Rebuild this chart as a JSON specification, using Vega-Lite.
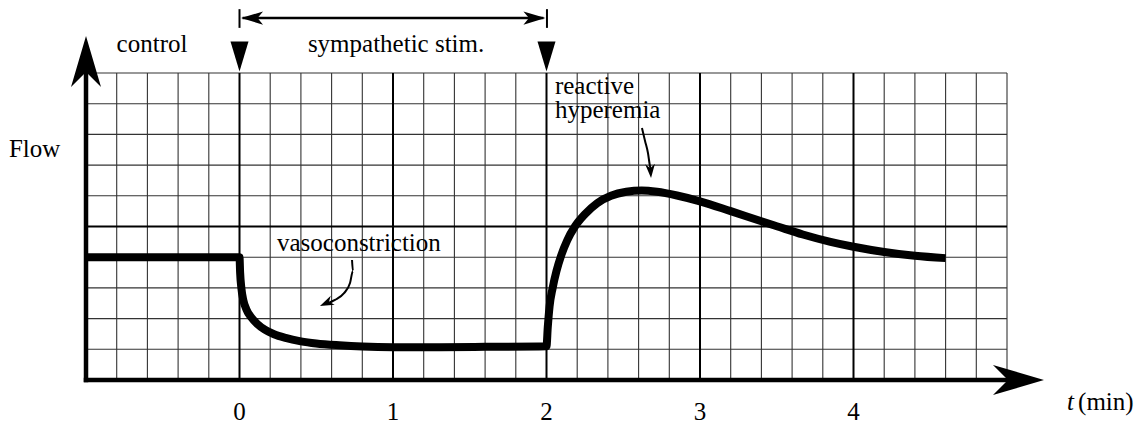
{
  "$schema": "https://vega.github.io/schema/vega-lite/v6.json",
  "width": 1143,
  "height": 424,
  "autosize": {"type": "none"},
  "padding": 0,
  "background": "white",
  "config": {"view": {"stroke": null}},
  "datasets": {
    "vminor": [{"t":-0.8,"f":0,"f2":10},{"t":-0.6,"f":0,"f2":10},{"t":-0.4,"f":0,"f2":10},{"t":-0.2,"f":0,"f2":10},{"t":0.2,"f":0,"f2":10},{"t":0.4,"f":0,"f2":10},{"t":0.6,"f":0,"f2":10},{"t":0.8,"f":0,"f2":10},{"t":1.2,"f":0,"f2":10},{"t":1.4,"f":0,"f2":10},{"t":1.6,"f":0,"f2":10},{"t":1.8,"f":0,"f2":10},{"t":2.2,"f":0,"f2":10},{"t":2.4,"f":0,"f2":10},{"t":2.6,"f":0,"f2":10},{"t":2.8,"f":0,"f2":10},{"t":3.2,"f":0,"f2":10},{"t":3.4,"f":0,"f2":10},{"t":3.6,"f":0,"f2":10},{"t":3.8,"f":0,"f2":10},{"t":4.2,"f":0,"f2":10},{"t":4.4,"f":0,"f2":10},{"t":4.6,"f":0,"f2":10},{"t":4.8,"f":0,"f2":10},{"t":5,"f":0,"f2":10}],
    "vmajor": [{"t":0,"f":0,"f2":10},{"t":1,"f":0,"f2":10},{"t":2,"f":0,"f2":10},{"t":3,"f":0,"f2":10},{"t":4,"f":0,"f2":10}],
    "hminor": [{"f":1,"t":-1,"t2":5},{"f":2,"t":-1,"t2":5},{"f":3,"t":-1,"t2":5},{"f":4,"t":-1,"t2":5},{"f":6,"t":-1,"t2":5},{"f":7,"t":-1,"t2":5},{"f":8,"t":-1,"t2":5},{"f":9,"t":-1,"t2":5},{"f":10,"t":-1,"t2":5}],
    "hmajor": [{"f":5,"t":-1,"t2":5}],
    "axes": [{"t":-1,"f":0,"t2":-1,"f2":10.5},{"t":-1,"f":0,"t2":5.1,"f2":0}],
    "yhead": [{"t":-1,"f":11.205}],
    "xhead": [{"t":5.241,"f":0}],
    "flow": [
      {"t":-1,"f":4.0},{"t":0,"f":4.0},{"t":0.004,"f":3.5},{"t":0.012,"f":3.0},{"t":0.025,"f":2.6},{"t":0.045,"f":2.3},{"t":0.075,"f":2.05},{"t":0.115,"f":1.83},{"t":0.165,"f":1.64},{"t":0.225,"f":1.49},{"t":0.3,"f":1.37},{"t":0.4,"f":1.26},{"t":0.5,"f":1.19},{"t":0.65,"f":1.13},{"t":0.8,"f":1.09},{"t":1.0,"f":1.07},{"t":1.3,"f":1.07},{"t":1.6,"f":1.08},{"t":2.0,"f":1.1},
      {"t":2.008,"f":1.7},{"t":2.02,"f":2.4},{"t":2.04,"f":3.0},{"t":2.065,"f":3.55},{"t":2.095,"f":4.05},{"t":2.135,"f":4.55},{"t":2.185,"f":5.0},{"t":2.25,"f":5.4},{"t":2.33,"f":5.76},{"t":2.42,"f":6.0},{"t":2.52,"f":6.13},{"t":2.62,"f":6.17},{"t":2.72,"f":6.13},{"t":2.85,"f":6.01},{"t":3.0,"f":5.82},{"t":3.2,"f":5.5},{"t":3.4,"f":5.17},{"t":3.5,"f":5.01},{"t":3.67,"f":4.74},{"t":3.85,"f":4.5},{"t":4.0,"f":4.34},{"t":4.2,"f":4.17},{"t":4.4,"f":4.05},{"t":4.6,"f":3.97}
    ],
    "marks": [{"t":0,"f":10.05},{"t":2,"f":10.05}],
    "span": [{"t":0.02,"f":11.79,"t2":1.98,"f2":11.79}],
    "spanbars": [{"t":0,"f":11.47,"f2":12.08},{"t":2.003,"f":11.47,"f2":12.08}],
    "lhead": [{"t":0.01,"f":11.79}],
    "rhead": [{"t":1.993,"f":11.79}],
    "varrow": [{"seq":1,"t":0.733,"f":3.909},{"seq":2,"t":0.739,"f":3.55},{"seq":3,"t":0.72,"f":3.16},{"seq":4,"t":0.681,"f":2.83},{"seq":5,"t":0.622,"f":2.61},{"seq":6,"t":0.564,"f":2.48}],
    "vhead": [{"t":0.524,"f":2.41}],
    "harrow": [{"seq":1,"t":2.622,"f":8.208},{"seq":2,"t":2.642,"f":7.785},{"seq":3,"t":2.661,"f":7.394},{"seq":4,"t":2.674,"f":6.971},{"seq":5,"t":2.681,"f":6.84}],
    "hhead": [{"t":2.681,"f":6.58}],
    "tcenter": [{"t":-0.57,"f":10.68,"label":"control"},{"t":1.02,"f":10.68,"label":"sympathetic stim."},{"t":0,"f":-1.30,"label":"0"},{"t":1,"f":-1.30,"label":"1"},{"t":2,"f":-1.30,"label":"2"},{"t":3,"f":-1.30,"label":"3"},{"t":4,"f":-1.30,"label":"4"}],
    "tleft": [{"t":-1.502,"f":7.264,"label":"Flow"},{"t":0.244,"f":4.2,"label":"vasoconstriction"},{"t":2.055,"f":9.316,"label":"reactive"},{"t":2.055,"f":8.534,"label":"hyperemia"},{"t":5.463,"f":-0.977,"label":"(min)"}],
    "titalic": [{"t":5.391,"f":-0.977,"label":"t"}]
  },
  "encoding": {
    "x": {"field": "t", "type": "quantitative", "scale": {"domain": [-1.5603, 5.886], "nice": false, "zero": false}, "axis": null},
    "y": {"field": "f", "type": "quantitative", "scale": {"domain": [-1.4332, 12.378], "nice": false, "zero": false}, "axis": null}
  },
  "layer": [
    {"data": {"name": "vminor"}, "mark": {"type": "rule", "color": "#333", "strokeWidth": 1.1}, "encoding": {"y2": {"field": "f2"}}},
    {"data": {"name": "hminor"}, "mark": {"type": "rule", "color": "#333", "strokeWidth": 1.1}, "encoding": {"x2": {"field": "t2"}}},
    {"data": {"name": "vmajor"}, "mark": {"type": "rule", "color": "#000", "strokeWidth": 2}, "encoding": {"y2": {"field": "f2"}}},
    {"data": {"name": "hmajor"}, "mark": {"type": "rule", "color": "#000", "strokeWidth": 2}, "encoding": {"x2": {"field": "t2"}}},
    {"data": {"name": "axes"}, "mark": {"type": "rule", "color": "#000", "strokeWidth": 4.5, "strokeCap": "square"}, "encoding": {"x2": {"field": "t2"}, "y2": {"field": "f2"}}},
    {"data": {"name": "yhead"}, "mark": {"type": "point", "shape": "M0,0L1,3.4L0,2.4L-1,3.4Z", "size": 900, "filled": true, "color": "#000", "opacity": 1, "strokeWidth": 0}},
    {"data": {"name": "xhead"}, "mark": {"type": "point", "shape": "M0,0L1,3.4L0,2.4L-1,3.4Z", "size": 900, "angle": 90, "filled": true, "color": "#000", "opacity": 1, "strokeWidth": 0}},
    {"data": {"name": "flow"}, "mark": {"type": "line", "color": "#000", "strokeWidth": 8, "interpolate": "monotone", "strokeJoin": "miter", "strokeCap": "butt"}, "encoding": {}},
    {"data": {"name": "marks"}, "mark": {"type": "point", "shape": "M0,0L-0.6,-2L0.6,-2Z", "size": 900, "filled": true, "color": "#000", "opacity": 1, "strokeWidth": 0}},
    {"data": {"name": "span"}, "mark": {"type": "rule", "color": "#000", "strokeWidth": 2.5}, "encoding": {"x2": {"field": "t2"}, "y2": {"field": "f2"}}},
    {"data": {"name": "spanbars"}, "mark": {"type": "rule", "color": "#000", "strokeWidth": 2}, "encoding": {"y2": {"field": "f2"}}},
    {"data": {"name": "lhead"}, "mark": {"type": "point", "shape": "M0,0L0.6,2L0,1.5L-0.6,2Z", "size": 484, "angle": 270, "filled": true, "color": "#000", "opacity": 1, "strokeWidth": 0}},
    {"data": {"name": "rhead"}, "mark": {"type": "point", "shape": "M0,0L0.6,2L0,1.5L-0.6,2Z", "size": 484, "angle": 90, "filled": true, "color": "#000", "opacity": 1, "strokeWidth": 0}},
    {"data": {"name": "varrow"}, "mark": {"type": "line", "color": "#000", "strokeWidth": 2, "interpolate": "monotone"}, "encoding": {"order": {"field": "seq", "type": "quantitative"}}},
    {"data": {"name": "vhead"}, "mark": {"type": "point", "shape": "M0,0L0.7,2L0,1.4L-0.7,2Z", "size": 196, "angle": 246, "filled": true, "color": "#000", "opacity": 1, "strokeWidth": 0}},
    {"data": {"name": "harrow"}, "mark": {"type": "line", "color": "#000", "strokeWidth": 2, "interpolate": "monotone"}, "encoding": {"order": {"field": "seq", "type": "quantitative"}}},
    {"data": {"name": "hhead"}, "mark": {"type": "point", "shape": "M0,0L0.7,2L0,1.4L-0.7,2Z", "size": 196, "angle": 176, "filled": true, "color": "#000", "opacity": 1, "strokeWidth": 0}},
    {"data": {"name": "tcenter"}, "mark": {"type": "text", "font": "'Liberation Serif', 'DejaVu Serif', serif", "fontSize": 25, "align": "center", "baseline": "alphabetic", "color": "#000"}, "encoding": {"text": {"field": "label"}}},
    {"data": {"name": "tleft"}, "mark": {"type": "text", "font": "'Liberation Serif', 'DejaVu Serif', serif", "fontSize": 25, "align": "left", "baseline": "alphabetic", "color": "#000"}, "encoding": {"text": {"field": "label"}}},
    {"data": {"name": "titalic"}, "mark": {"type": "text", "font": "'Liberation Serif', 'DejaVu Serif', serif", "fontSize": 25, "fontStyle": "italic", "align": "left", "baseline": "alphabetic", "color": "#000"}, "encoding": {"text": {"field": "label"}}}
  ]
}
